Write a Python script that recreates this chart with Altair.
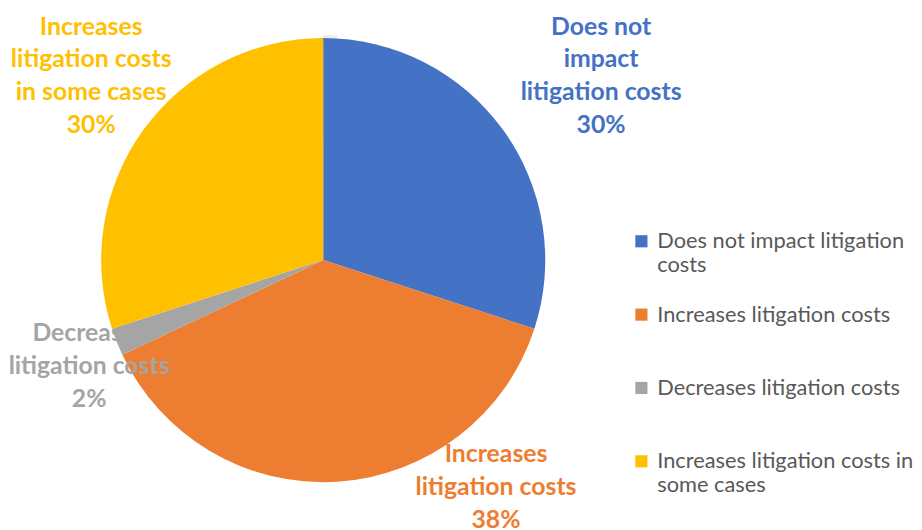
import altair as alt
import pandas as pd

categories = [
    "Does not impact litigation costs",
    "Increases litigation costs",
    "Decreases litigation costs",
    "Increases litigation costs in some cases",
]
values = [30, 38, 2, 30]
slice_labels = [
    "Does not\nimpact\nlitigation costs\n30%",
    "Increases\nlitigation costs\n38%",
    "Decreases\nlitigation costs\n2%",
    "Increases\nlitigation costs\nin some cases\n30%",
]
colors = ["#4472C4", "#ED7D31", "#A5A5A5", "#FFC000"]

df = pd.DataFrame({
    "category": categories,
    "value": values,
    "label": slice_labels,
    "order": list(range(len(categories))),
})

FONT = "Lato"
R = 224
LH = 33

color_scale = alt.Scale(domain=categories, range=colors)
theta_scale = alt.Scale(domain=[0, 100], range=[0, 6.283185307179586])

base = alt.Chart(df).transform_window(
    cum="sum(value)", sort=[alt.SortField("order")]
).transform_calculate(
    start="datum.cum - datum.value",
    mid="datum.cum - datum.value / 2",
)

legend_expr = (
    "datum.label == 'Does not impact litigation costs' ? ['Does not impact litigation', 'costs'] : "
    "datum.label == 'Increases litigation costs in some cases' ? ['Increases litigation costs in', 'some cases'] : "
    "[datum.label, '']"
)

shadow = alt.Chart(pd.DataFrame({"v": [1]})).mark_arc(
    outerRadius=R + 3, color="#000000", opacity=0.07
).encode(theta=alt.Theta("v:Q"))

pie = base.mark_arc(outerRadius=R, strokeWidth=0).encode(
    theta=alt.Theta("start:Q", scale=theta_scale),
    theta2="cum:Q",
    color=alt.Color(
        "category:N",
        scale=color_scale,
        sort=categories,
        legend=alt.Legend(
            title=None,
            orient="none",
            legendX=628,
            legendY=222,
            symbolType="square",
            symbolSize=150,
            symbolStrokeWidth=0,
            labelFont=FONT,
            labelFontSize=22,
            labelColor="#595959",
            labelLimit=400,
            labelExpr=legend_expr,
            labelBaseline="middle",
            labelOffset=5,
            rowPadding=28,
        ),
    ),
    order=alt.Order("order:Q"),
)

label_specs = [
    (categories[0], 337, 0.04, 4, 0),
    (categories[1], 287, -0.59, 3, 0),
    (categories[2], 247, -0.066, 3, -13),
    (categories[3], 298, 0.05, 4, -2),
]

texts = []
for (cat, rad, off, nlines, ddx), col in zip(label_specs, colors):
    t = base.transform_filter(alt.datum.category == cat).mark_text(
        radius=rad,
        thetaOffset=off,
        dx=ddx,
        dy=-(nlines - 1) * LH / 2 + 1,
        font=FONT,
        fontSize=25,
        fontWeight="bold",
        lineBreak="\n",
        lineHeight=LH,
        align="center",
        baseline="middle",
        color=col,
    ).encode(
        theta=alt.Theta("mid:Q", scale=theta_scale),
        text="label:N",
    )
    texts.append(t)

chart = alt.layer(shadow, pie, *texts).properties(
    width=636, height=504, padding=0
).configure_view(stroke=None).configure(background="white")

chart.save("out.html", embed_options={"renderer": "svg", "actions": False})
